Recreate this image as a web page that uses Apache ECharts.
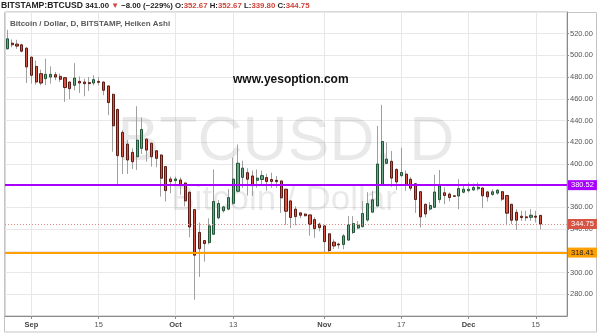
<!DOCTYPE html>
<html><head><meta charset="utf-8">
<script src="https://cdn.jsdelivr.net/npm/echarts@6/dist/echarts.min.js"></script>
<style>html,body{margin:0;padding:0;background:#fff}#c{width:602px;height:335px}</style>
</head><body><div id="c"></div>
<script>
// Daily categories (2014-08-27 .. 2014-12-21; last 5 days empty space)
const categories = [
'08-27','08-28','08-29','08-30','08-31',
'09-01','09-02','09-03','09-04','09-05','09-06','09-07','09-08','09-09','09-10',
'09-11','09-12','09-13','09-14','09-15','09-16','09-17','09-18','09-19','09-20',
'09-21','09-22','09-23','09-24','09-25','09-26','09-27','09-28','09-29','09-30',
'10-01','10-02','10-03','10-04','10-05','10-06','10-07','10-08','10-09','10-10',
'10-11','10-12','10-13','10-14','10-15','10-16','10-17','10-18','10-19','10-20',
'10-21','10-22','10-23','10-24','10-25','10-26','10-27','10-28','10-29','10-30','10-31',
'11-01','11-02','11-03','11-04','11-05','11-06','11-07','11-08','11-09','11-10',
'11-11','11-12','11-13','11-14','11-15','11-16','11-17','11-18','11-19','11-20',
'11-21','11-22','11-23','11-24','11-25','11-26','11-27','11-28','11-29','11-30',
'12-01','12-02','12-03','12-04','12-05','12-06','12-07','12-08','12-09','12-10',
'12-11','12-12','12-13','12-14','12-15','12-16','12-17','12-18','12-19','12-20','12-21'
];
// Heiken Ashi candles
const openVals = [
506.1,511.3,510.4,509.8,506.7,498.4,489.9,483.2,478.6,480.1,
482.3,480.7,479.5,475.5,472.5,476.1,475.5,475.0,474.6,476.1,
475.5,471.9,464.2,450.2,429.1,418.3,410.7,406.7,414.4,422.9,
419.0,412.2,408.3,397.6,386.2,384.7,385.3,382.5,374.0,358.0,
337.0,329.5,327.6,335.3,350.4,356.9,358.4,363.8,374.9,387.7,
392.0,389.0,385.0,385.7,387.5,385.7,385.0,384.4,376.8,366.0,
358.4,355.0,353.9,353.1,348.8,344.6,343.0,335.7,328.0,326.3,
325.9,329.9,336.9,341.0,342.3,348.4,355.6,361.3,380.5,400.6,
402.5,395.0,389.3,390.7,385.9,381.8,374.5,362.9,358.5,360.1,
367.2,373.5,372.3,370.7,370.5,374.0,375.4,376.1,377.2,377.9,
374.3,372.0,373.2,374.5,371.0,362.9,355.5,351.9,351.3,350.9,
351.9,352.67];
const closeVals = [
515.3,509.8,508.6,503.9,489.4,481.7,475.5,474.6,482.6,482.6,
480.1,478.0,470.4,469.4,479.2,474.6,474.0,474.0,477.7,475.2,
467.9,456.6,435.2,407.7,406.7,403.7,402.1,422.0,431.8,412.8,
406.7,405.2,386.9,375.5,383.8,386.2,380.1,366.0,342.0,316.0,
322.0,326.7,343.0,365.5,363.6,360.5,369.1,386.1,400.7,396.2,
386.0,380.3,387.0,389.3,383.9,384.0,383.8,368.8,356.5,350.7,
351.6,352.8,352.3,344.5,340.5,341.4,328.5,320.3,324.5,325.5,
333.8,343.9,345.1,343.6,354.4,363.5,367.0,400.0,420.7,404.5,
387.0,383.5,392.2,381.0,377.7,367.3,351.3,354.0,361.8,374.2,
379.9,371.0,369.1,370.2,377.4,376.8,376.8,378.4,378.6,370.7,
369.8,374.4,375.9,367.6,354.7,348.2,348.2,350.7,350.5,352.8,
351.0,344.75];
const lowVals = [
505.5,507.6,506.1,503.0,474.6,474.0,473.1,472.5,472.5,474.0,
477.1,475.5,457.2,459.6,467.9,465.4,462.4,467.3,472.5,472.5,
463.3,445.0,411.3,380.1,390.8,390.8,395.4,394.5,409.2,402.1,
397.6,397.0,370.0,365.4,373.1,380.7,371.6,361.0,332.5,275.0,
296.0,310.0,326.0,334.5,349.0,355.3,357.5,362.4,373.8,378.0,
371.0,370.7,378.0,380.0,375.5,378.0,378.0,355.0,344.0,341.0,
343.5,350.0,351.8,334.0,332.0,338.0,317.5,318.5,321.5,322.0,
321.5,329.5,335.5,340.0,341.5,347.0,355.5,361.0,380.0,400.0,
379.0,376.0,388.0,375.3,375.3,355.0,341.5,350.7,357.0,359.3,
364.0,363.0,365.5,370.0,358.4,373.0,373.8,375.3,375.5,359.3,
365.5,370.7,371.6,366.0,343.6,344.5,339.3,347.6,347.6,347.6,
346.1,339.80];
const highVals = [
523.6,514.7,514.4,510.7,507.6,499.1,495.4,486.9,497.0,489.9,
484.7,483.2,480.1,476.1,492.9,480.7,478.6,480.1,481.7,480.1,
476.1,472.5,464.8,451.1,431.2,422.0,414.4,453.2,442.8,423.6,
419.9,412.8,408.9,398.2,388.4,388.4,387.5,383.0,374.5,358.0,
346.0,330.0,350.0,395.0,367.0,361.5,376.8,406.0,418.0,403.0,
396.0,394.0,395.0,394.0,391.0,392.0,389.0,384.6,377.0,366.5,
361.0,355.5,354.5,353.5,351.0,346.0,343.5,336.0,330.5,327.5,
335.5,352.0,352.0,347.5,366.0,374.0,375.0,435.0,454.5,420.0,
412.0,396.0,415.0,394.0,388.0,382.0,375.0,363.5,365.0,390.0,
394.5,378.5,373.8,371.0,386.0,381.0,383.0,382.0,383.0,378.5,
375.3,376.8,377.0,375.0,371.5,363.3,358.4,356.9,356.9,358.4,
356.9,352.67];
// x tick labels
const tickDates  = ['09-01','09-15','10-01','10-13','11-01','11-17','12-01','12-15'];
const tickLabels = ['Sep','15','Oct','13','Nov','17','Dec','15'];
const monthTicks = ['Sep','Oct','Nov','Dec'];
// horizontal levels
const levelValues = [380.52, 318.41, 344.75];
// header texts
const headerSymbol = 'BITSTAMP:BTCUSD';
const headerLast = '341.00';
const headerChange = '\u22128.00 (\u2212229%)';
const headerOHLC = [['O:','352.67'],['H:','352.67'],['L:','339.80'],['C:','344.75']];

const FONT = 'Liberation Sans, Arial, sans-serif';
const wickData = openVals.map((o,i)=>[o, closeVals[i], lowVals[i], highVals[i]]);
const bodyData = openVals.map((o,i)=>[o, closeVals[i], Math.min(o,closeVals[i]), Math.max(o,closeVals[i])]);
const isTick = (idx, val) => tickDates.indexOf(val) >= 0;

const headerText = '{s|' + headerSymbol + '} {a|' + headerLast + '} {r|\u25BC} {a|' + headerChange + '} ' +
  headerOHLC.map(p => '{a|' + p[0] + '}{r|' + p[1] + '}').join(' ');

const chart = echarts.init(document.getElementById('c'), null, {renderer:'canvas'});
chart.setOption({
  animation: false,
  backgroundColor: '#fff',
  textStyle: {fontFamily: FONT},
  title: [
    {left: 1, top: 1, padding: 0, text: headerText,
     textStyle: {fontSize: 8, rich: {
       s: {fontSize: 8.6, fontWeight: 'bold', color: '#222', fontFamily: FONT},
       a: {fontSize: 7.8, fontWeight: 'bold', color: '#222', fontFamily: FONT},
       r: {fontSize: 7.8, fontWeight: 'bold', color: '#d0443a', fontFamily: FONT}}}},
    {left: 10, top: 20, padding: 0, text: 'Bitcoin / Dollar, D, BITSTAMP, Heiken Ashi',
     textStyle: {fontSize: 8, fontWeight: 'bold', color: '#5a5a5a', fontFamily: FONT}},
    {left: 233, top: 74, padding: 0, text: 'www.yesoption.com',
     textStyle: {fontSize: 12, fontWeight: 'bold', color: '#111', fontFamily: FONT}}
  ],
  graphic: {elements: [
    {type: 'text', x: 286, y: 143, z: 1, silent: true,
     style: {text: 'BTCUSD, D', align: 'center', verticalAlign: 'middle', fontSize: 62.5, fontFamily: FONT, fill: 'rgba(0,0,0,0.085)'}},
    {type: 'text', x: 284, y: 200, z: 1, silent: true,
     style: {text: 'Bitcoin / Dollar', align: 'center', verticalAlign: 'middle', fontSize: 35, fontFamily: FONT, fill: 'rgba(0,0,0,0.085)'}},
    {type: 'rect', z: 0, silent: true, shape: {x: 4.5, y: 12.5, width: 592, height: 319.5},
     style: {fill: 'none', stroke: '#c4c4c4', lineWidth: 1}}
  ]},
  grid: {left: 5, right: 35, top: 12, bottom: 19, show: true, borderColor: '#b5b5b5', borderWidth: 1},
  xAxis: {
    type: 'category', data: categories, boundaryGap: true,
    axisLine: {lineStyle: {color: '#8a8a8a'}},
    axisTick: {show: true, alignWithLabel: true, interval: isTick, length: 3, lineStyle: {color: '#8a8a8a'}},
    axisLabel: {interval: isTick, margin: 5, fontSize: 7.5, color: '#555',
      formatter: v => { const t = tickLabels[tickDates.indexOf(v)]; return monthTicks.indexOf(t) >= 0 ? '{m|' + t + '}' : '{d|' + t + '}'; },
      rich: {m: {fontSize: 7.5, fontWeight: 'bold', color: '#444', fontFamily: FONT}, d: {fontSize: 7.5, color: '#555', fontFamily: FONT}}},
    splitLine: {show: true, interval: isTick, alignWithLabel: true, lineStyle: {color: '#e8e8e8'}}
  },
  yAxis: {
    type: 'value', position: 'right', min: 260, max: 540, interval: 20,
    axisLine: {show: true, lineStyle: {color: '#8a8a8a'}},
    axisTick: {show: true, length: 2, lineStyle: {color: '#8a8a8a'}},
    axisLabel: {formatter: v => v.toFixed(2), fontSize: 7.5, color: '#555', margin: 3, showMinLabel: false, showMaxLabel: false},
    splitLine: {lineStyle: {color: '#e8e8e8'}}
  },
  series: [
    {type: 'candlestick', name: 'wick', data: wickData, barWidth: 1, silent: true,
     itemStyle: {color: '#a0a0a0', color0: '#a0a0a0', borderColor: '#a0a0a0', borderColor0: '#a0a0a0', borderWidth: 1}},
    {type: 'candlestick', name: 'body', data: bodyData, barWidth: 2.6, silent: true,
     itemStyle: {color: '#6ba583', color0: '#d75442', borderColor: '#225437', borderColor0: '#5b1a13', borderWidth: 1},
     markLine: {
       silent: true, symbol: ['none', 'none'],
       label: {show: true, position: 'end', distance: 1, fontSize: 7.5, padding: [1, 3, 1, 3], fontFamily: FONT,
               formatter: p => p.value.toFixed(2)},
       data: [
         {yAxis: levelValues[0], lineStyle: {color: '#aa00ff', width: 2, type: 'solid'},
          label: {backgroundColor: '#aa00ff', color: '#fff'}},
         {yAxis: levelValues[1], lineStyle: {color: '#ff9f00', width: 2, type: 'solid'},
          label: {backgroundColor: '#ff9f00', color: '#222'}},
         {yAxis: levelValues[2], lineStyle: {color: '#e28a80', width: 1, type: [1, 2]},
          label: {backgroundColor: '#d75442', color: '#fff'}}
       ]
     }}
  ]
});
</script></body></html>
